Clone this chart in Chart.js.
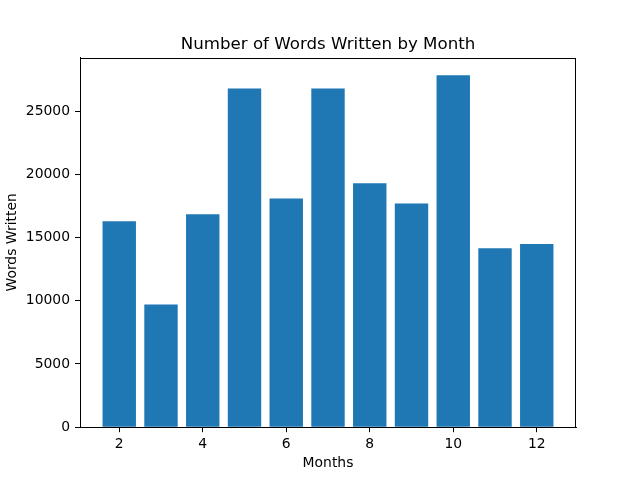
<!DOCTYPE html>
<html>
<head>
<meta charset="utf-8">
<script src="https://cdn.jsdelivr.net/npm/chart.js@4.4.0/dist/chart.umd.min.js"></script>
<style>
  html, body { margin: 0; padding: 0; background: #fff; }
  #wrap { width: 640px; height: 480px; }
</style>
</head>
<body>
<div id="wrap"><canvas id="c" width="640" height="480"></canvas></div>
<script>
const months = [2, 3, 4, 5, 6, 7, 8, 9, 10, 11, 12];
const wordsWritten = [16300, 9700, 16850, 26800, 18100, 26800, 19300, 17700, 27850, 14150, 14500];
const xTicks = [2, 4, 6, 8, 10, 12];
const yTicks = [0, 5000, 10000, 15000, 20000, 25000];
const chartTitle = 'Number of Words Written by Month';
const xLabel = 'Months';
const yLabel = 'Words Written';

const FONT = 'DejaVu Sans';
const TICK_SIZE = 13.9;

const spinePlugin = {
  id: 'spines',
  afterDraw(chart) {
    const { ctx, chartArea: a } = chart;
    ctx.save();
    ctx.strokeStyle = '#000';
    ctx.lineWidth = 1;
    const top = Math.round(a.top) + 0.5;
    const right = Math.round(a.right) - 0.5;
    ctx.beginPath();
    ctx.moveTo(Math.round(a.left), top);
    ctx.lineTo(right + 0.5, top);
    ctx.moveTo(right, top);
    ctx.lineTo(right, Math.round(a.bottom));
    ctx.stroke();
    ctx.fillStyle = '#000';
    ctx.font = '16.67px "' + FONT + '"';
    ctx.textAlign = 'center';
    ctx.textBaseline = 'alphabetic';
    ctx.fillText(chartTitle, (a.left + a.right) / 2, a.top - 8.5);
    ctx.restore();
  }
};

new Chart(document.getElementById('c'), {
  type: 'bar',
  data: {
    datasets: [{
      data: months.map((m, i) => ({ x: m, y: wordsWritten[i] })),
      backgroundColor: '#1f77b4',
      borderWidth: 0,
      categoryPercentage: 1.0,
      barPercentage: 0.8
    }]
  },
  options: {
    responsive: false,
    animation: false,
    devicePixelRatio: 1,
    layout: { padding: { top: 57.6, right: 64, left: 0, bottom: 0 } },
    plugins: {
      legend: { display: false },
      tooltip: { enabled: false },
      title: { display: false }
    },
    scales: {
      x: {
        type: 'linear',
        offset: false,
        min: 1.06,
        max: 12.94,
        afterBuildTicks: (s) => { s.ticks = xTicks.map(v => ({ value: v })); },
        afterFit: (s) => { s.height = 52.8; },
        grid: { offset: false, drawOnChartArea: false, drawTicks: true, tickLength: 5, color: '#000', tickWidth: 1 },
        border: { display: true, color: '#000', width: 1 },
        ticks: { color: '#000', padding: 4, maxRotation: 0, autoSkip: false, font: { family: FONT, size: TICK_SIZE }, callback: (v) => String(v) },
        title: { display: true, text: xLabel, color: '#000', font: { family: FONT, size: TICK_SIZE }, padding: { top: 0, bottom: 8.5 } }
      },
      y: {
        type: 'linear',
        min: 0,
        max: 29240,
        afterBuildTicks: (s) => { s.ticks = yTicks.map(v => ({ value: v })); },
        afterFit: (s) => { s.width = 80; },
        grid: { drawOnChartArea: false, drawTicks: true, tickLength: 5, color: '#000', tickWidth: 1 },
        border: { display: true, color: '#000', width: 1 },
        ticks: { color: '#000', padding: 5, autoSkip: false, font: { family: FONT, size: TICK_SIZE }, callback: (v) => String(v) },
        title: { display: true, text: yLabel, color: '#000', font: { family: FONT, size: TICK_SIZE }, padding: { top: 4.5, bottom: 0 } }
      }
    }
  },
  plugins: [spinePlugin]
});
</script>
</body>
</html>
